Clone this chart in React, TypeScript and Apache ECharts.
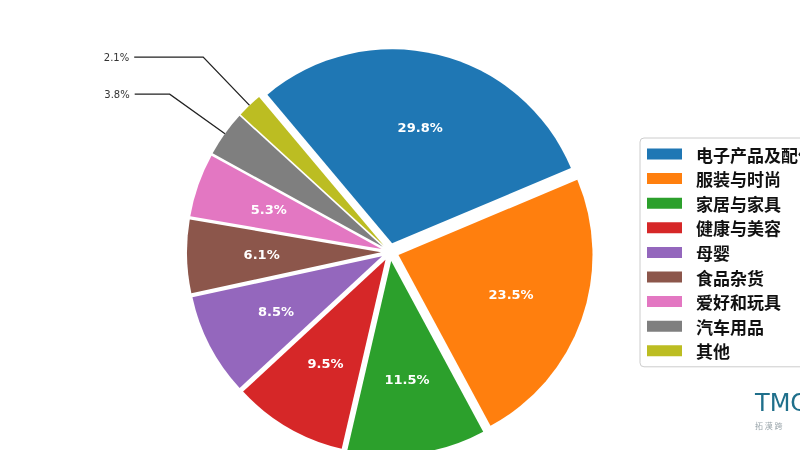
import React, { useEffect, useRef } from "react";
import * as echarts from "echarts";

const categories = ["电子产品及配件", "服装与时尚", "家居与家具", "健康与美容", "母婴", "食品杂货", "爱好和玩具", "汽车用品", "其他"];
const shares = [29.8, 23.5, 11.5, 9.5, 8.5, 6.1, 5.3, 3.8, 2.1];
const palette = ["#1f77b4", "#ff7f0e", "#2ca02c", "#d62728", "#9467bd", "#8c564b", "#e377c2", "#7f7f7f", "#bcbd22"];
const outsideLabelIdx = [7, 8];
const outsideLineLen = [68, 67];
const outsideLineLen2 = [35, 69];

const CX = 390;
const CY = 252;
const R = 194;
const EXPLODE = 9;

export default function App() {
  const ref = useRef<HTMLDivElement>(null);
  useEffect(() => {
    if (!ref.current) return;
    const chart = echarts.init(ref.current, null, { renderer: "svg" });
    const mainData = categories.map((name, i) => {
      const k = outsideLabelIdx.indexOf(i);
      const item: any = {
        name,
        value: shares[i],
        selected: true,
        itemStyle: { color: palette[i] },
      };
      if (k >= 0) {
        item.label = {
          show: true,
          position: "outside",
          formatter: (p: any) => p.value.toFixed(1) + "%",
          color: "#333",
          fontSize: 10,
          fontFamily: "DejaVu Sans",
          distanceToLabelLine: 5,
        };
        item.labelLine = {
          show: true,
          length: outsideLineLen[k],
          length2: outsideLineLen2[k],
          lineStyle: { color: "#222", width: 1.3 },
        };
      }
      return item;
    });
    const ghostData = shares.map((v, i) => ({
      value: v,
      selected: true,
      itemStyle: { color: "rgba(0,0,0,0)" },
      label: { show: outsideLabelIdx.indexOf(i) < 0 },
    }));
    chart.setOption({
      animation: false,
      legend: {
        orient: "vertical",
        left: 640,
        top: 138,
        data: categories,
        itemWidth: 35,
        itemHeight: 11,
        itemGap: 6.6,
        icon: "rect",
        padding: [7, 8, 7, 7],
        borderColor: "#cccccc",
        borderWidth: 1,
        borderRadius: 4,
        backgroundColor: "#ffffff",
        selectedMode: false,
        textStyle: {
          fontFamily: "Noto Sans CJK SC",
          fontWeight: "bold",
          fontSize: 17,
          lineHeight: 18,
          color: "#111",
          padding: [0, 0, 0, 9],
        },
      },
      series: [
        {
          type: "pie",
          center: [CX, CY],
          radius: [0, R],
          startAngle: 130,
          clockwise: true,
          selectedMode: "multiple",
          selectedOffset: EXPLODE,
          avoidLabelOverlap: false,
          silent: true,
          label: { show: false },
          labelLine: { show: false },
          emphasis: { disabled: true },
          data: mainData,
        },
        {
          type: "pie",
          center: [CX, CY],
          radius: [0, R * 1.2],
          startAngle: 130,
          clockwise: true,
          selectedMode: "multiple",
          selectedOffset: EXPLODE,
          avoidLabelOverlap: false,
          silent: true,
          z: 3,
          label: {
            position: "inside",
            formatter: (p: any) => p.value.toFixed(1) + "%",
            color: "#ffffff",
            fontWeight: "bold",
            fontSize: 13,
            fontFamily: "DejaVu Sans",
          },
          labelLine: { show: false },
          emphasis: { disabled: true },
          data: ghostData,
        },
      ],
      graphic: [
        {
          type: "text",
          left: 755,
          top: 391,
          style: { text: "TMO", fontSize: 24, fontFamily: "DejaVu Sans", fill: "#1f6f8b" },
        },
        {
          type: "text",
          left: 755,
          top: 421,
          style: { text: "拓 漠 跨", fontSize: 8, fontFamily: "Noto Sans CJK SC", fill: "#9aa5ab" },
        },
      ],
    });
    return () => chart.dispose();
  }, []);
  return <div ref={ref} style={{ width: 800, height: 450, position: "fixed", left: 0, top: 0 }} />;
}
